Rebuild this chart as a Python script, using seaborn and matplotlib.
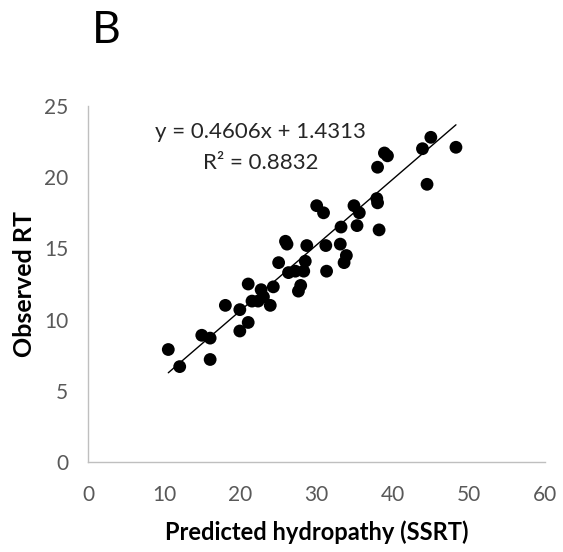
import numpy as np
import pandas as pd
import matplotlib
matplotlib.use("Agg")
import matplotlib.pyplot as plt
import seaborn as sns

# === Data ===
predicted_ssrt = [10.5, 12.0, 14.9, 16.0, 16.0, 18.0, 19.9, 19.9, 21.0, 21.0,
                  21.5, 22.3, 22.7, 23.0, 23.9, 24.3, 25.0, 25.9, 26.1, 26.3,
                  27.2, 27.6, 27.9, 28.3, 28.5, 28.7, 30.0, 30.9, 31.2, 31.3,
                  33.2, 33.1, 33.9, 33.6, 34.9, 35.6, 35.3, 37.9, 38.0, 38.0,
                  38.2, 38.9, 39.3, 43.9, 45.0, 44.5, 48.3]
observed_rt = [7.9, 6.7, 8.9, 8.7, 7.2, 11.0, 10.7, 9.2, 9.8, 12.5,
               11.3, 11.3, 12.1, 11.6, 11.0, 12.3, 14.0, 15.5, 15.3, 13.3,
               13.4, 12.0, 12.4, 13.4, 14.1, 15.2, 18.0, 17.5, 15.2, 13.4,
               16.5, 15.3, 14.5, 14.0, 18.0, 17.5, 16.6, 18.5, 18.2, 20.7,
               16.3, 21.7, 21.5, 22.0, 22.8, 19.5, 22.1]

# trend line as printed on the chart
slope = 0.4606
intercept = 1.4313
eq_text = "y = 0.4606x + 1.4313"
r2_text = "R² = 0.8832"

x_ticks = [0, 10, 20, 30, 40, 50, 60]
y_ticks = [0, 5, 10, 15, 20, 25]

df = pd.DataFrame({"Predicted": predicted_ssrt, "Observed": observed_rt})

sns.set_style("white")
plt.rcParams['font.family'] = ['Lato', 'DejaVu Sans']

fig = plt.figure(figsize=(5.63, 5.52), dpi=100)
ax = fig.add_axes([0.157, 0.163, 0.811, 0.645])

sns.scatterplot(data=df, x="Predicted", y="Observed", ax=ax, s=85,
                color="black", edgecolor="none", zorder=3)

# trend line over the range of the data
x_fit = np.array([df["Predicted"].min(), df["Predicted"].max()])
ax.plot(x_fit, slope * x_fit + intercept, color="black", linewidth=1.0, zorder=4)

ax.set_xlim(0, 60)
ax.set_ylim(0, 25)
ax.set_xticks(x_ticks)
ax.set_yticks(y_ticks)

gray = "#bfbfbf"
for side in ["top", "right"]:
    ax.spines[side].set_visible(False)
for side in ["left", "bottom"]:
    ax.spines[side].set_color(gray)
    ax.spines[side].set_linewidth(1.0)

ax.tick_params(axis="both", which="major", direction="out", length=5.5, width=1,
               color=gray, labelcolor="#595959", labelsize=15)
ax.tick_params(axis="y", pad=9)
ax.tick_params(axis="x", pad=11)

ax.set_xlabel("Predicted hydropathy (SSRT)", fontsize=17, fontweight="bold", color="black")
ax.set_ylabel("Observed RT", fontsize=18, fontweight="bold", color="black")
ax.xaxis.set_label_coords(0.5, -0.165)
ax.yaxis.set_label_coords(-0.115, 0.5)

ax.text(22.6, 23.2, eq_text, ha="center", va="center", fontsize=16, color="#262626")
ax.text(22.6, 21.0, r2_text, ha="center", va="center", fontsize=16, color="#262626")

fig.text(0.164, 0.944, "B", fontsize=32, color="black", ha="left", va="center")

fig.savefig("out.png", dpi=100)
